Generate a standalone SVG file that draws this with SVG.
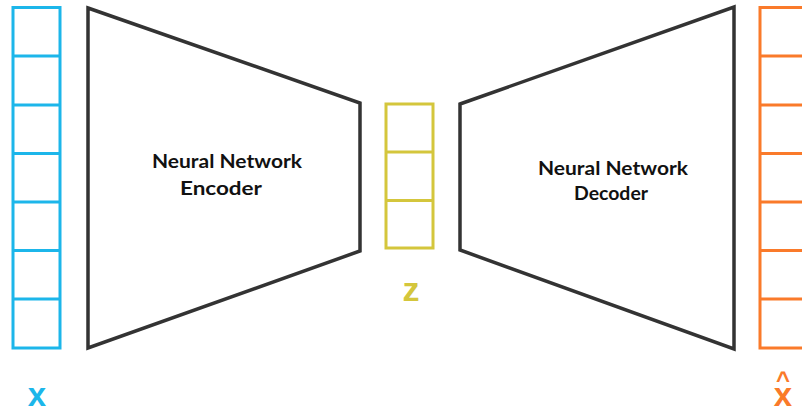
<svg xmlns="http://www.w3.org/2000/svg" width="802" height="413" viewBox="0 0 802 413">
<style>
.cell{fill:none;stroke-width:3}
.blue{stroke:#1cb6ea}
.yel{stroke:#d4c63c}
.org{stroke:#fa7a2a}
.trap{fill:none;stroke:#333;stroke-width:3.5;stroke-linejoin:miter}
.lbl{font-family:Lato,"Liberation Sans",Arial,sans-serif;font-weight:bold;font-size:19px;fill:#111;text-anchor:middle}
.var{font-family:"Liberation Sans",Arial,sans-serif;font-weight:bold;text-anchor:middle}
</style>
<rect width="802" height="413" fill="#fff"/>
<g id="input-x">
<rect class="cell blue" x="13" y="7.5" width="47" height="340.5"/>
<path class="cell blue" d="M13 56H60M13 105H60M13 153.5H60M13 202H60M13 250.5H60M13 299H60"/>
<text class="var" x="37" y="406" font-size="33" fill="#1cb6ea">x</text>
</g>
<g id="encoder">
<polygon class="trap" points="88,8 360,103 360,251 88,348"/>
<text class="lbl" x="227" y="168" textLength="150" lengthAdjust="spacingAndGlyphs">Neural Network</text>
<text class="lbl" x="221" y="195" textLength="82" lengthAdjust="spacingAndGlyphs">Encoder</text>
</g>
<g id="latent-z">
<rect class="cell yel" x="386" y="104" width="47" height="144"/>
<path class="cell yel" d="M386 152H433M386 200.5H433"/>
<text class="var" x="411" y="301" font-size="34" fill="#d4c63c">z</text>
</g>
<g id="decoder">
<polygon class="trap" points="460,104 734,7 734,349 460,250"/>
<text class="lbl" x="613" y="175" textLength="150" lengthAdjust="spacingAndGlyphs">Neural Network</text>
<text class="lbl" x="611" y="200" textLength="74" lengthAdjust="spacingAndGlyphs">Decoder</text>
</g>
<g id="output-xhat">
<rect class="cell org" x="760" y="7.5" width="50" height="340.5"/>
<path class="cell org" d="M760 56H810M760 105H810M760 153.5H810M760 202H810M760 250.5H810M760 299H810"/>
<text class="var" x="783" y="406" font-size="33" fill="#fa7a2a">x</text>
<text class="var" x="783" y="388" font-size="24" fill="#fa7a2a">^</text>
</g>
<g id="connectors"></g>
</svg>
